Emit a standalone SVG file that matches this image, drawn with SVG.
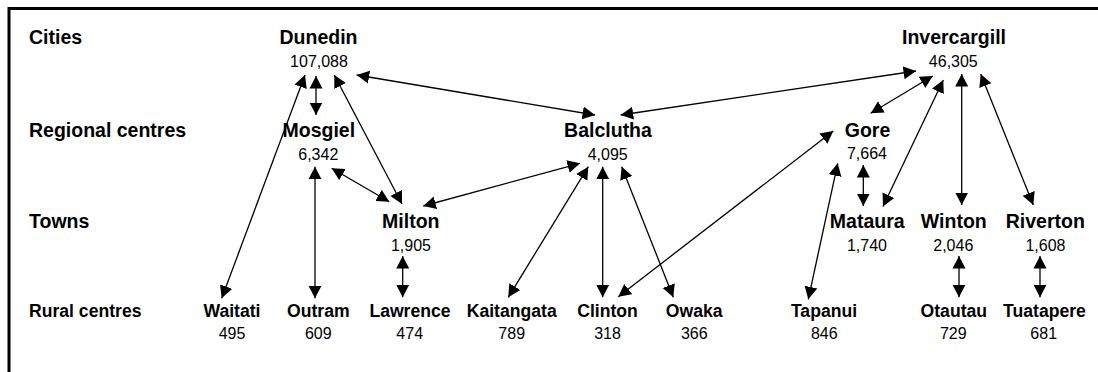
<svg xmlns="http://www.w3.org/2000/svg" width="1098" height="372" viewBox="0 0 1098 372">
<style>
text{font-family:"Liberation Sans",Arial,Helvetica,sans-serif;fill:#000}
.n{font-weight:bold;font-size:19.5px;text-anchor:middle}
.r{font-weight:bold;font-size:17.6px;text-anchor:middle}
.v{font-size:16px;text-anchor:middle}
.row{font-weight:bold;font-size:19.5px}
.rowr{font-weight:bold;font-size:17.6px}
.c line{stroke:#000;stroke-width:1.3;fill:none;marker-start:url(#ah);marker-end:url(#ah)}
</style>
<defs>
<marker id="ah" markerUnits="userSpaceOnUse" markerWidth="13" markerHeight="14" refX="12.5" refY="6.5" orient="auto-start-reverse" viewBox="0 0 13 13">
<path d="M0,0 L12.5,6.5 L0,13 z" fill="#000"/>
</marker>
</defs>
<rect x="0" y="0" width="1098" height="372" fill="#fff"/>
<rect x="9" y="8.5" width="1200" height="500" fill="none" stroke="#000" stroke-width="3"/>
<g id="row-labels">
<text class="row" x="29" y="44">Cities</text>
<text class="row" x="29" y="137">Regional centres</text>
<text class="row" x="29" y="228">Towns</text>
<text class="rowr" x="29" y="317">Rural centres</text>
</g>
<g class="c" id="connectors">
<line x1="316" y1="76" x2="316" y2="115"/>
<line x1="305" y1="75" x2="221.7" y2="298.3"/>
<line x1="334.3" y1="75" x2="402" y2="204"/>
<line x1="356.7" y1="75" x2="595" y2="115"/>
<line x1="620.7" y1="115" x2="916" y2="71"/>
<line x1="932.7" y1="76" x2="870.7" y2="113.3"/>
<line x1="943.3" y1="80" x2="883" y2="206.5"/>
<line x1="961.7" y1="74" x2="961.7" y2="205"/>
<line x1="980.7" y1="74" x2="1033.3" y2="205"/>
<line x1="315" y1="166.7" x2="315" y2="298.3"/>
<line x1="331.7" y1="168.3" x2="389.3" y2="201.7"/>
<line x1="423.3" y1="206" x2="580" y2="163.3"/>
<line x1="402.7" y1="256" x2="402.7" y2="297.3"/>
<line x1="588.3" y1="166.7" x2="508.3" y2="297.3"/>
<line x1="602.7" y1="166.7" x2="602.7" y2="297.3"/>
<line x1="621.7" y1="166.7" x2="673.3" y2="297.3"/>
<line x1="833.3" y1="131" x2="618.3" y2="296.7"/>
<line x1="837.7" y1="163.3" x2="808.3" y2="299.3"/>
<line x1="863.3" y1="165" x2="863.3" y2="206"/>
<line x1="959" y1="256" x2="959" y2="297.3"/>
<line x1="1040" y1="256" x2="1040" y2="297.3"/>
</g>
<g id="dunedin"><text class="n" x="318.5" y="44">Dunedin</text><text class="v" x="319" y="67">107,088</text></g>
<g id="invercargill"><text class="n" x="954" y="44">Invercargill</text><text class="v" x="953.3" y="67">46,305</text></g>
<g id="mosgiel"><text class="n" x="318.8" y="137">Mosgiel</text><text class="v" x="318.3" y="160">6,342</text></g>
<g id="balclutha"><text class="n" x="608" y="137">Balclutha</text><text class="v" x="607.7" y="159.5">4,095</text></g>
<g id="gore"><text class="n" x="867.5" y="136.5">Gore</text><text class="v" x="867" y="159">7,664</text></g>
<g id="milton"><text class="n" x="410.8" y="228">Milton</text><text class="v" x="411" y="251">1,905</text></g>
<g id="mataura"><text class="n" x="867.2" y="228">Mataura</text><text class="v" x="867" y="251">1,740</text></g>
<g id="winton"><text class="n" x="953.8" y="228">Winton</text><text class="v" x="953.3" y="251">2,046</text></g>
<g id="riverton"><text class="n" x="1045.3" y="228">Riverton</text><text class="v" x="1045.5" y="251">1,608</text></g>
<g id="waitati"><text class="r" x="232" y="317">Waitati</text><text class="v" x="232" y="339">495</text></g>
<g id="outram"><text class="r" x="318.3" y="317">Outram</text><text class="v" x="318.3" y="339">609</text></g>
<g id="lawrence"><text class="r" x="410" y="317">Lawrence</text><text class="v" x="409.7" y="339">474</text></g>
<g id="kaitangata"><text class="r" x="511.7" y="317">Kaitangata</text><text class="v" x="511.7" y="339">789</text></g>
<g id="clinton"><text class="r" x="607.5" y="317">Clinton</text><text class="v" x="607.5" y="339">318</text></g>
<g id="owaka"><text class="r" x="694.2" y="317">Owaka</text><text class="v" x="694.3" y="339">366</text></g>
<g id="tapanui"><text class="r" x="824" y="317">Tapanui</text><text class="v" x="824.3" y="339">846</text></g>
<g id="otautau"><text class="r" x="953.8" y="317">Otautau</text><text class="v" x="953.3" y="339">729</text></g>
<g id="tuatapere"><text class="r" x="1044.5" y="317">Tuatapere</text><text class="v" x="1043.7" y="339">681</text></g>
</svg>
